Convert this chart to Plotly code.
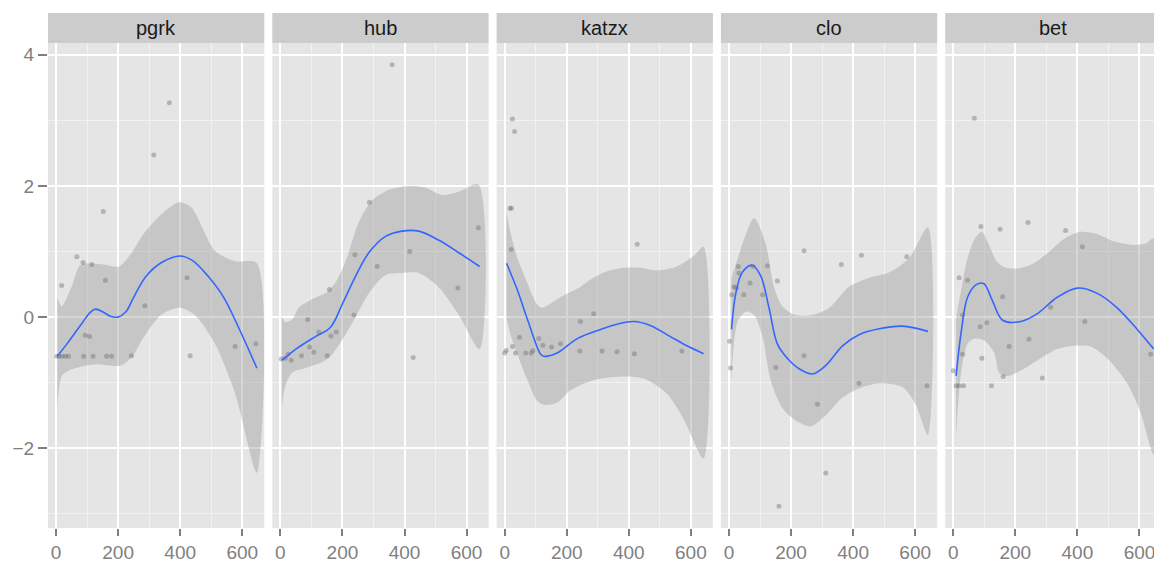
import plotly.graph_objects as go

panels = ["pgrk", "hub", "katzx", "clo", "bet"]

# scatter points
pgrk_x = [2, 10, 18, 20, 30, 40, 67, 87, 89, 94, 108, 115, 119, 152, 159, 163, 179, 243, 286, 315, 365, 422, 432, 577, 644]
pgrk_y = [-0.6, -0.6, 0.48, -0.6, -0.6, -0.6, 0.92, 0.83, -0.6, -0.28, -0.3, 0.8, -0.6, 1.61, 0.56, -0.6, -0.6, -0.59, 0.17, 2.47, 3.27, 0.6, -0.59, -0.45, -0.41]

hub_x = [3, 16, 25, 35, 68, 88, 94, 108, 124, 151, 158, 163, 180, 237, 240, 287, 312, 360, 417, 428, 572, 638]
hub_y = [-0.64, -0.63, -0.57, -0.66, -0.59, -0.04, -0.46, -0.54, -0.23, -0.59, 0.42, -0.29, -0.23, 0.03, 0.95, 1.75, 0.77, 3.85, 1.0, -0.62, 0.44, 1.36]

katzx_x = [0, 5, 17, 21, 22, 25, 25, 32, 35, 48, 68, 86, 91, 110, 123, 151, 180, 242, 244, 287, 314, 362, 418, 427, 571]
katzx_y = [-0.55, -0.51, 1.66, 1.03, 1.66, 3.02, -0.45, 2.83, -0.55, -0.31, -0.55, -0.55, -0.51, -0.33, -0.43, -0.46, -0.41, -0.52, -0.07, 0.05, -0.52, -0.53, -0.56, 1.11, -0.52]

clo_x = [2, 5, 9, 16, 24, 30, 32, 48, 68, 77, 108, 124, 151, 156, 161, 242, 242, 285, 312, 362, 419, 427, 573, 638]
clo_y = [-0.37, -0.78, 0.34, 0.46, 0.44, 0.77, 0.67, 0.34, 0.52, 0.77, 0.34, 0.78, -0.77, 0.55, -2.89, 1.01, -0.59, -1.33, -2.38, 0.8, -1.01, 0.94, 0.92, -1.05]

bet_x = [0, 9, 19, 33, 19, 46, 30, 30, 68, 89, 87, 108, 92, 123, 151, 159, 161, 180, 241, 244, 287, 314, 362, 416, 424, 636]
bet_y = [-0.82, -1.05, -1.05, -1.05, 0.6, 0.56, 0.03, -0.57, 3.03, 1.38, -0.15, -0.09, -0.63, -1.05, 1.34, 0.31, -0.91, -0.45, 1.44, -0.34, -0.93, 0.15, 1.32, 1.07, -0.07, -0.57]

# smoother line
pgrk_fx = [4, 40, 80, 110, 127, 150, 175, 200, 225, 250, 290, 340, 398, 440, 490, 540, 590, 647]
pgrk_fy = [-0.6, -0.38, -0.12, 0.07, 0.12, 0.08, 0.01, 0.0, 0.08, 0.3, 0.62, 0.83, 0.93, 0.86, 0.62, 0.3, -0.18, -0.78]
hub_fx = [5, 59, 113, 161, 199, 237, 285, 339, 392, 446, 511, 575, 642]
hub_fy = [-0.66, -0.46, -0.3, -0.16, 0.19, 0.57, 0.98, 1.23, 1.31, 1.31, 1.17, 0.98, 0.77]
katzx_fx = [6, 41, 73, 116, 126, 169, 234, 309, 362, 416, 469, 534, 587, 641]
katzx_fy = [0.82, 0.41, -0.03, -0.57, -0.6, -0.55, -0.33, -0.19, -0.11, -0.07, -0.13, -0.3, -0.44, -0.56]
clo_fx = [8, 22, 43, 75, 102, 129, 156, 188, 226, 269, 312, 366, 419, 484, 559, 641]
clo_fy = [-0.19, 0.36, 0.68, 0.79, 0.63, 0.14, -0.41, -0.63, -0.79, -0.87, -0.74, -0.44, -0.27, -0.18, -0.14, -0.22]
bet_fx = [9, 25, 46, 73, 98, 126, 159, 218, 271, 335, 400, 464, 528, 593, 646]
bet_fy = [-0.9, -0.25, 0.3, 0.49, 0.51, 0.25, -0.05, -0.07, 0.05, 0.3, 0.44, 0.36, 0.14, -0.19, -0.49]

# confidence band, upper and lower edges
pgrk_ux = [4, 18, 50, 78, 130, 165, 203, 241, 284, 349, 398, 436, 512, 577, 647]
pgrk_uy = [0.3, 0.16, 0.46, 0.79, 0.81, 0.79, 0.77, 0.96, 1.28, 1.61, 1.75, 1.67, 1.01, 0.85, 0.82]
pgrk_lx = [4, 18, 40, 90, 130, 170, 210, 243, 284, 338, 398, 447, 512, 577, 647]
pgrk_ly = [-1.45, -0.9, -0.82, -0.75, -0.72, -0.74, -0.74, -0.62, -0.3, 0.03, 0.14, 0.03, -0.41, -1.17, -2.38]

hub_ux = [5, 16, 38, 59, 102, 145, 177, 210, 253, 296, 350, 414, 468, 521, 575, 638]
hub_uy = [0.0, -0.08, -0.04, 0.14, 0.27, 0.36, 0.52, 0.85, 1.45, 1.78, 1.94, 2.0, 1.97, 1.86, 1.91, 2.02]
hub_lx = [5, 16, 38, 80, 130, 161, 199, 237, 285, 339, 392, 446, 511, 575, 642]
hub_ly = [-1.4, -1.05, -0.85, -0.78, -0.7, -0.6, -0.35, -0.05, 0.36, 0.64, 0.67, 0.67, 0.45, 0.03, -0.49]

katzx_ux = [6, 19, 41, 73, 105, 121, 143, 191, 239, 276, 319, 384, 437, 491, 555, 609, 641]
katzx_uy = [1.6, 1.28, 0.9, 0.52, 0.19, 0.14, 0.19, 0.33, 0.44, 0.57, 0.68, 0.75, 0.75, 0.71, 0.77, 0.93, 1.07]
katzx_lx = [6, 19, 41, 73, 105, 126, 169, 212, 276, 341, 405, 459, 523, 577, 641]
katzx_ly = [-0.03, -0.27, -0.57, -0.96, -1.28, -1.34, -1.31, -1.12, -0.98, -0.92, -0.91, -0.96, -1.17, -1.56, -2.16]

clo_ux = [8, 22, 50, 81, 118, 145, 172, 215, 269, 323, 387, 452, 516, 581, 641]
clo_uy = [0.6, 0.8, 1.2, 1.51, 1.12, 0.46, 0.16, 0.03, 0.03, 0.14, 0.46, 0.6, 0.68, 0.9, 1.37]
clo_lx = [8, 27, 54, 81, 108, 134, 172, 215, 263, 312, 366, 419, 484, 559, 602, 641]
clo_ly = [-1.0, -0.08, 0.08, 0.03, -0.3, -0.96, -1.39, -1.58, -1.67, -1.5, -1.23, -1.09, -1.01, -1.07, -1.34, -1.8]

bet_ux = [9, 25, 46, 70, 92, 115, 140, 165, 210, 260, 310, 360, 410, 460, 520, 580, 620, 646]
bet_uy = [0.0, 0.4, 0.9, 1.2, 1.3, 1.1, 0.85, 0.76, 0.74, 0.82, 1.0, 1.2, 1.3, 1.27, 1.15, 1.1, 1.12, 1.2]
bet_lx = [9, 25, 46, 68, 100, 132, 148, 175, 228, 282, 335, 389, 443, 496, 560, 603, 646]
bet_ly = [-1.83, -0.85, -0.41, -0.33, -0.36, -0.55, -0.85, -0.9, -0.79, -0.63, -0.49, -0.44, -0.45, -0.63, -1.01, -1.45, -2.1]

points = [(pgrk_x, pgrk_y), (hub_x, hub_y), (katzx_x, katzx_y), (clo_x, clo_y), (bet_x, bet_y)]
fits = [(pgrk_fx, pgrk_fy), (hub_fx, hub_fy), (katzx_fx, katzx_fy), (clo_fx, clo_fy), (bet_fx, bet_fy)]
bands = [
    (pgrk_ux, pgrk_uy, pgrk_lx, pgrk_ly),
    (hub_ux, hub_uy, hub_lx, hub_ly),
    (katzx_ux, katzx_uy, katzx_lx, katzx_ly),
    (clo_ux, clo_uy, clo_lx, clo_ly),
    (bet_ux, bet_uy, bet_lx, bet_ly),
]

W, H = 1154, 563
FONT = "Liberation Sans, Arial, sans-serif"
AXIS_GREY = "#7F7F7F"

# panel geometry in pixels (last panel is cropped by the picture edge)
panel_w = 216.3
gap = 8.0
left0 = 48.0
x_lo, x_hi = -26.0, 671.0
px_per_unit = panel_w / (x_hi - x_lo)
top_px, bottom_px = 43.0, 528.0
strip_top = 13.0
y_dom = [(H - bottom_px) / H, (H - top_px) / H]

fig = go.Figure()

for i, name in enumerate(panels):
    sfx = "" if i == 0 else str(i + 1)
    xa, ya = "x" + sfx, "y" + sfx

    ux, uy, lx, ly = bands[i]
    fig.add_trace(go.Scatter(
        x=ux + lx[::-1], y=uy + ly[::-1], xaxis=xa, yaxis=ya,
        mode="lines", fill="toself", fillcolor="rgba(153,153,153,0.4)",
        line=dict(width=0, shape="spline", smoothing=0.8), hoverinfo="skip", showlegend=False,
    ))
    px, py = points[i]
    fig.add_trace(go.Scatter(
        x=px, y=py, xaxis=xa, yaxis=ya, mode="markers",
        marker=dict(size=5, color="rgba(105,105,105,0.4)", line=dict(width=0)),
        showlegend=False,
    ))
    fx, fy = fits[i]
    fig.add_trace(go.Scatter(
        x=fx, y=fy, xaxis=xa, yaxis=ya, mode="lines",
        line=dict(color="#3366FF", width=1.6, shape="spline", smoothing=1.0),
        showlegend=False,
    ))

    left = left0 + i * (panel_w + gap)
    right = min(left + panel_w, W)
    hi = x_lo + (right - left) / px_per_unit
    dom = [left / W, right / W]

    fig.layout["xaxis" + sfx] = dict(
        domain=dom, range=[x_lo, hi], anchor=ya,
        tickmode="array", tickvals=[0, 200, 400, 600],
        ticklabeloverflow="allow",
        ticks="outside", ticklen=7, tickwidth=1.5, tickcolor=AXIS_GREY,
        tickfont=dict(size=19, color=AXIS_GREY, family=FONT),
        showgrid=True, gridcolor="white", gridwidth=1.6, zeroline=False,
        minor=dict(tickvals=[100, 300, 500], showgrid=True, gridcolor="#F2F2F2", gridwidth=0.8),
        showline=False, fixedrange=True,
    )
    fig.layout["yaxis" + sfx] = dict(
        domain=y_dom, range=[-3.22, 4.18], anchor=xa,
        tickmode="linear", tick0=0, dtick=2,
        ticks="outside" if i == 0 else "", ticklen=9, tickwidth=1.5, tickcolor=AXIS_GREY,
        showticklabels=(i == 0),
        tickfont=dict(size=19, color=AXIS_GREY, family=FONT),
        showgrid=True, gridcolor="white", gridwidth=1.6, zeroline=False,
        minor=dict(dtick=1, tick0=0, showgrid=True, gridcolor="#F2F2F2", gridwidth=0.8),
        showline=False, fixedrange=True,
    )

    # facet strip
    fig.add_shape(
        type="rect", xref="paper", yref="paper",
        x0=dom[0], x1=dom[1], y0=(H - top_px) / H, y1=(H - strip_top) / H,
        fillcolor="#CCCCCC", line=dict(width=0), layer="below",
    )
    fig.add_annotation(
        text=name, xref="paper", yref="paper",
        x=(left + panel_w / 2) / W, y=(H - (strip_top + top_px) / 2) / H,
        xanchor="center", yanchor="middle", showarrow=False,
        font=dict(size=20, color="#1A1A1A", family=FONT),
    )

fig.update_layout(
    width=W, height=H,
    margin=dict(l=0, r=0, t=0, b=0),
    paper_bgcolor="white", plot_bgcolor="#E5E5E5",
    showlegend=False,
    font=dict(family=FONT),
)

# drop the default page margin so the figure sits at the window corner
fig.write_html(
    "out.html",
    config={"displayModeBar": False},
    post_script="document.body.style.margin='0';document.body.style.overflow='hidden';",
)
